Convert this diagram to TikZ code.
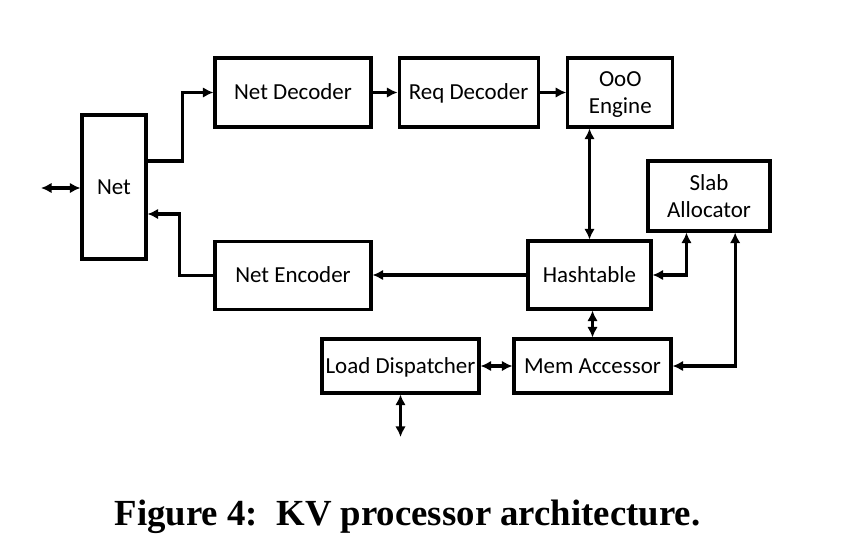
\documentclass[tikz,border=0pt]{standalone}
\usepackage{fontspec}
\setmainfont{Carlito}
\newfontfamily\capfont{Liberation Serif}
\usetikzlibrary{arrows.meta, positioning}

\begin{document}
\begin{tikzpicture}[
    x=0.03cm, y=-0.03cm,
    >={Latex[length=9pt,width=9pt]},
    blk/.style={draw, line width=2.6pt, rectangle, inner sep=0pt,
        align=center, font=\fontsize{19.6}{23.5}\selectfont},
    oneline/.style={text height=16.5pt, text depth=4pt},
    twoline/.style={text depth=-1pt},
    link/.style={line width=2.6pt}
]
\useasboundingbox (0,0) rectangle (852,556);

\node[blk, oneline, minimum width=1.92cm, minimum height=4.32cm] (net) at (114,187) {Net};
\node[blk, oneline, minimum width=4.68cm, minimum height=2.07cm] (netdec) at (293,92.5) {Net Decoder};
\node[blk, oneline, minimum width=4.17cm, minimum height=2.07cm, right=0.75cm of netdec] (reqdec) {Req Decoder};
\node[blk, twoline, minimum width=3.15cm, minimum height=2.07cm, right=0.8cm of reqdec] (ooo) {OoO\\Engine};
\node[blk, oneline, minimum width=4.68cm, minimum height=2.04cm, below=3.33cm of netdec] (netenc) {Net Encoder};
\node[blk, oneline, minimum width=3.69cm, minimum height=2.04cm] (hash) at (589.5,275) {Hashtable};
\node[blk, twoline, minimum width=3.66cm, minimum height=2.1cm] (slab) at (709,196) {Slab\\Allocator};
\node[blk, oneline, minimum width=4.71cm, minimum height=1.62cm] (loaddisp) at (400.5,366) {Load Dispatcher};
\node[blk, oneline, minimum width=4.71cm, minimum height=1.62cm] (memacc) at (592.5,366) {Mem Accessor};

\coordinate (ext) at (41,188);
\coordinate (ldout) at (400.5,437);

% network side
\draw[link, <->] (ext) -- (ext -| net.west);
\draw[link, ->] ([yshift=0.78cm]net.east) -- ++(1.05cm,0) |- (netdec.west);
\draw[link, ->] (netenc.west) -- ++(-1.02cm,0) |- ([yshift=-0.81cm]net.east);

% request pipeline
\draw[link, ->] (netdec) -- (reqdec);
\draw[link, ->] (reqdec) -- (ooo);
\draw[link, <->] (hash.north |- ooo.south) -- (hash.north);
\draw[link, ->] (hash.west) -- (hash.west -| netenc.east);

% memory side
\draw[link, <->] (hash.east) -| ([xshift=1.2cm]slab.south west);
\draw[link, <->] ([xshift=2.66cm]slab.south west) |- (memacc.east);
\draw[link, <->] (memacc.north |- hash.south) -- (memacc.north);
\draw[link, <->] (loaddisp) -- (memacc);
\draw[link, <->] (loaddisp) -- (ldout);

\node[anchor=base, font=\capfont\bfseries\fontsize{31.4}{36}\selectfont] (caption) at (407.5,525)
    {Figure 4:\ \ KV processor architecture.};
\end{tikzpicture}
\end{document}
